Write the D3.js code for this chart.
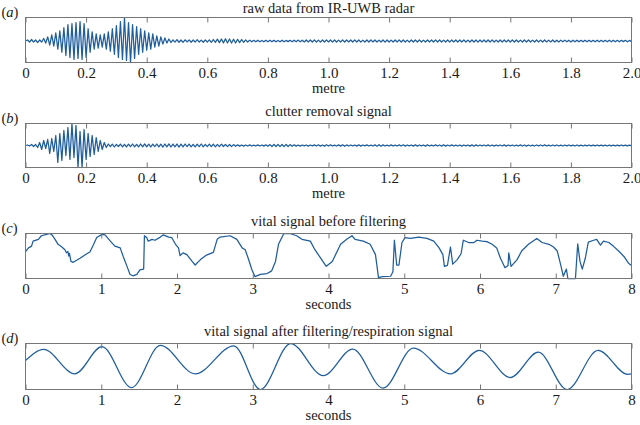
<!DOCTYPE html>
<html><head><meta charset="utf-8">
<script src="https://cdn.jsdelivr.net/npm/d3@7"></script>
<style>body{margin:0;background:#fff}svg{display:block}</style>
</head><body><svg id="chart" width="640" height="425"></svg>
<script>
// ---------- data ----------
const rangeTicks = [0,0.2,0.4,0.6,0.8,1.0,1.2,1.4,1.6,1.8,2.0];
const rangeTickLabels = ["0","0.2","0.4","0.6","0.8","1.0","1.2","1.4","1.6","1.8","2.0"];
const timeTicks = [0,1,2,3,4,5,6,7,8];
const timeTickLabels = ["0","1","2","3","4","5","6","7","8"];

const sampleStep = 2/300; // metre between radar samples

const rawData = [
0,1,-1,1.5,-1,1,-1.5,1,-1,
2.5,-2,4,-4,6,-5,8,
-8,10,-11,13,-14,16,-16,17,-18,18,-17,19,-18,17,-16,
12,-11,9,-8,7,-7,6,-6,7,-8,9,-10,
12,-13,15,-16,19,-18,23,-19,18,-21,16,-17,14,-13,
12,-11,10,-9,8,-8,7,-6,5,-5,4,-3,3,-2,2,-1.5,
1.2,-1,1.4,-1.2,1,-1.3,1.2,-0.9,1.1,-1.2,
1,-1.1,1.3,-1,0.9,-1.2,1.1,-1,1.2,-1.3,
1.5,-1.4,1.8,-1.6,2,-1.8,2.2,-1.9,2,-2,
1.8,-2,1.7,-1.6,1.5,-1.3,1.2,-1,0.9,-0.8,
0.7,-0.8,0.8,-0.7,0.6,-0.8,0.7,-0.7,0.8,-0.6,
0.7,-0.8,0.6,-0.7,0.8,-0.7,0.6,-0.6,0.7,-0.8,
0.8,-0.7,0.9,-0.8,0.8,-0.9,1,-0.9,1,-1,
1.1,-1,0.9,-1.1,1,-1,1.1,-0.9,1,-1.1,
1,-1,0.9,-1,1.1,-1,1,-0.9,1,-1,
1.1,-1,1,-1.1,0.9,-1,1,-1,1.1,-0.9,
1,-1,0.9,-1,1,-1.1,1,-1,0.9,-1,
1,-0.9,1.1,-1,1,-1,0.9,-1.1,1,-1,
1,-1,1.1,-1,0.9,-1,1,-0.9,1,-1,
1.1,-1,1,-1,0.9,-1,1,-1.1,1,-0.9,
1,-1,1,-1,1.1,-1,0.9,-1,1,-1,
1,-1.1,1,-0.9,1,-1,1,-1,1.1,-1,
0.9,-1,1,-1,1,-0.9,1,-1,1,-1,
1,-1,0.9,-1,1,-1,1,-1,0.9,-1,
1,-0.9,0.9,-1,1,-0.9,0.9,-0.9,1,-0.9,
0.8,-0.9,0.9,-0.8,0.9,-0.8,0.8,-0.9,0.8,-0.8,
0.8,-0.8,0.7,-0.8,0.8,-0.7,0.8,-0.8,0.7,-0.8,
0.8,-0.7,0.7,-0.8,0.7,-0.7,0.8,-0.7,0.7,-0.7,
0.7,-0.7,0.7,-0.6,0.7,-0.7,0.6,-0.6
];

const clutterRemoved = [
0,0.5,-0.5,1,-1,1,
-2,3,-4,5,-3,6,-8,7,-6,
10,-17,12,-15,15,-10,18,-14,22,-12,20,-22,14,-22,16,
-14,12,-11,10,-9,8,-6,5,-4,3,-2,
1.5,-1.2,1.3,-1.5,1.2,-1,1.4,-1.3,1.2,-1.4,
1.3,-1.2,1.5,-1.3,1.2,-1.4,1.5,-1.3,1.6,-1.4,
1.3,-1.5,1.4,-1.2,1.5,-1.4,1.3,-1.6,1.5,-1.3,
1.6,-1.5,1.4,-1.3,1.5,-1.6,1.3,-1.4,1.5,-1.2,
1.4,-1.3,1.2,-1.4,1.3,-1.2,1.5,-1.3,1.2,-1.1,
1.3,-1.2,1.4,-1.3,1.1,-1.2,1.3,-1,1.1,-1.2,
1,-1.1,0.9,-0.8,0.7,-0.6,0.5,-0.6,0.5,-0.5,
0.6,-0.5,0.4,-0.5,0.6,-0.5,0.5,-0.6,0.7,-0.8,
0.9,-1,1.1,-1,1.2,-1.1,1,-1.2,1.1,-1,
0.9,-0.8,0.7,-0.6,0.5,-0.6,0.5,-0.4,0.5,-0.6,
0.5,-0.4,0.6,-0.5,0.7,-0.6,0.5,-0.6,0.7,-0.5,
0.6,-0.5,0.4,-0.5,0.6,-0.6,0.7,-0.8,0.6,-0.5,
0.5,-0.4,0.5,-0.6,0.7,-0.6,0.5,-0.4,0.6,-0.5,
0.4,-0.5,0.6,-0.7,0.8,-0.7,0.6,-0.5,0.4,-0.5,
0.6,-0.5,0.4,-0.5,0.6,-0.5,0.7,-0.6,0.5,-0.4,
0.5,-0.6,0.7,-0.6,0.5,-0.4,0.5,-0.6,0.6,-0.5,
0.4,-0.5,0.6,-0.5,0.5,-0.6,0.7,-0.6,0.5,-0.5,
0.6,-0.5,0.4,-0.5,0.5,-0.6,0.5,-0.4,0.5,-0.6,
0.6,-0.7,0.6,-0.5,0.5,-0.4,0.5,-0.5,0.6,-0.5,
0.5,-0.6,0.5,-0.4,0.5,-0.5,0.6,-0.6,0.5,-0.4,
0.5,-0.5,0.4,-0.5,0.6,-0.5,0.5,-0.6,0.5,-0.5,
0.4,-0.5,0.5,-0.4,0.5,-0.5,0.6,-0.5,0.4,-0.5,
0.5,-0.4,0.5,-0.5,0.4,-0.5,0.5,-0.4,0.5,-0.4,
0.4,-0.5,0.5,-0.4,0.4,-0.5,0.4,-0.4,0.5,-0.4,
0.4,-0.4,0.5,-0.4,0.4,-0.4,0.4,-0.5,0.4,-0.4,
0.4,-0.4,0.4,-0.4,0.5,-0.4,0.4,-0.4,0.4,-0.3
];

const vitalBeforeTime = [
0,0.04,0.08,0.10,0.17,0.21,0.28,0.32,0.35,0.39,0.43,0.48,0.52,0.54,0.56,0.57,0.58,0.60,0.63,0.72,0.81,0.85,0.90,0.94,1.01,1.05,1.12,1.18,1.25,1.29,1.34,1.38,1.42,1.47,1.51,1.56,1.57,1.60,1.62,1.67,1.71,1.78,1.82,1.89,1.93,1.98,2.02,2.04,2.08,2.13,2.20,2.24,2.31,2.39,2.48,
2.53,2.57,2.70,2.79,2.86,2.90,2.94,2.99,3.03,3.10,3.19,3.25,3.30,3.34,3.41,3.49,3.58,3.65,3.76,3.82,3.91,3.97,4.05,4.16,4.24,4.31,4.35,4.46,4.55,4.62,4.66,4.71,4.82,4.85,4.87,4.90,4.93,4.97,5.01,5.08,5.19,
5.30,5.39,5.46,5.51,5.53,5.57,5.61,5.64,5.70,5.75,5.78,5.85,5.92,5.96,6.03,6.09,6.16,6.22,6.27,6.33,6.37,6.38,6.41,6.49,6.55,6.64,6.75,6.82,6.91,6.97,7.02,7.07,7.10,7.14,7.16,7.26,7.29,7.32,7.35,7.39,7.43,7.50,7.54,7.59,7.63,7.70,7.76,7.83,7.90,7.96,8.0
];
const vitalBeforeValue = [
0.60,0.68,0.72,0.83,0.87,0.95,0.98,1.0,0.97,0.87,0.76,0.70,0.64,0.57,0.60,0.50,0.56,0.38,0.36,0.45,0.55,0.59,0.76,0.91,0.98,0.97,0.83,0.72,0.68,0.49,0.27,0.09,0.06,0.09,0.19,0.21,0.95,0.91,0.83,0.87,0.85,0.92,0.97,0.92,0.91,0.76,0.68,0.51,0.57,0.53,0.38,0.30,0.42,0.52,0.58,
0.87,0.92,0.95,0.87,0.68,0.64,0.45,0.19,0.04,0.09,0.11,0.17,0.38,0.76,1.0,1.0,0.95,0.87,0.83,0.64,0.42,0.27,0.38,0.76,0.87,0.95,0.87,0.83,0.76,0.53,0.02,0.04,0.05,0.15,0.85,0.30,0.30,0.80,0.91,0.89,0.92,
0.89,0.83,0.68,0.53,0.27,0.29,0.70,0.32,0.42,0.55,0.85,0.80,0.80,0.85,0.83,0.82,0.76,0.68,0.45,0.24,0.29,0.57,0.27,0.42,0.61,0.76,0.89,0.80,0.76,0.70,0.61,0.27,0.05,0.21,0,0,0.77,0.38,0.21,0.45,0.81,0.85,0.87,0.74,0.83,0.80,0.72,0.61,0.49,0.34,0.29
];

const respirationTime  = [0,0.24,0.65,1.01,1.40,1.78,2.24,2.75,3.10,3.50,3.93,4.32,4.72,5.12,5.61,5.99,6.40,6.77,7.15,7.56,7.95,8.0];
const respirationValue = [0.63,0.87,0.34,0.93,0.04,0.96,0.34,0.95,0.0,1.0,0.30,0.88,0.03,0.90,0.34,0.85,0.26,0.81,0.0,0.85,0.33,0.34];

const panelLetters = ["a","b","c","d"];
const panelTitles = ["raw data from IR-UWB radar","clutter removal signal","vital signal before filtering","vital signal after filtering/respiration signal"];
const axisTitles = ["metre","metre","seconds","seconds"];

// ---------- drawing ----------
const svg = d3.select("#chart");
const left = 25.5, right = 631.5;
const lineColor = "#1f5d9c", frameColor = "#767676", textColor = "#1a1a1a";
const serif = "'Liberation Serif','Times New Roman',serif";

const panels = [
  {top:17.5, bottom:62.5, xd:[0,2], yd:[-21,23], ticks:rangeTicks, labels:rangeTickLabels,
   pts: rawData.map((v,i)=>[i*sampleStep, v]), curve:d3.curveLinear},
  {top:123.5, bottom:167.5, xd:[0,2], yd:[-22,22], ticks:rangeTicks, labels:rangeTickLabels,
   pts: clutterRemoved.map((v,i)=>[i*sampleStep, v]), curve:d3.curveLinear},
  {top:233.5, bottom:278.5, xd:[0,8], yd:[0,1], ticks:timeTicks, labels:timeTickLabels,
   pts: vitalBeforeTime.map((t,i)=>[t, vitalBeforeValue[i]]), curve:d3.curveLinear},
  {top:343.5, bottom:389.5, xd:[0,8], yd:[0,1], ticks:timeTicks, labels:timeTickLabels,
   pts: respirationTime.map((t,i)=>[t, respirationValue[i]]), curve:d3.curveMonotoneX}
];

panels.forEach((p, k) => {
  const x = d3.scaleLinear().domain(p.xd).range([left, right]);
  const y = d3.scaleLinear().domain(p.yd).range([p.bottom, p.top]);
  const g = svg.append("g");

  g.append("path")
    .datum(p.pts)
    .attr("fill","none")
    .attr("stroke",lineColor)
    .attr("stroke-width",1.25)
    .attr("stroke-linejoin","round")
    .attr("d", d3.line().x(d=>x(d[0])).y(d=>y(d[1])).curve(p.curve));

  const ab = g.append("g").attr("transform",`translate(0,${p.bottom})`)
    .call(d3.axisBottom(x).tickValues(p.ticks).tickFormat((d,i)=>p.labels[i])
      .tickSizeInner(-5).tickSizeOuter(0).tickPadding(5));
  const at = g.append("g").attr("transform",`translate(0,${p.top})`)
    .call(d3.axisTop(x).tickValues(p.ticks).tickFormat("")
      .tickSizeInner(-5).tickSizeOuter(0));
  [ab, at].forEach(a => {
    a.attr("font-family", serif);
    a.select(".domain").remove();
    a.selectAll(".tick line").attr("stroke",frameColor);
  });
  ab.selectAll(".tick text")
    .attr("font-family",serif).attr("font-size",15).attr("fill",textColor);

  g.append("rect")
    .attr("x",left).attr("y",p.top)
    .attr("width",right-left).attr("height",p.bottom-p.top)
    .attr("fill","none").attr("stroke",frameColor).attr("stroke-width",1);

  g.append("text")
    .attr("x",(left+right)/2).attr("y",Math.max(p.top-8, 13))
    .attr("text-anchor","middle")
    .attr("font-family",serif).attr("font-size",14.5).attr("fill",textColor)
    .text(panelTitles[k]);

  g.append("text")
    .attr("x",(left+right)/2).attr("y",p.bottom+30.5)
    .attr("text-anchor","middle")
    .attr("font-family",serif).attr("font-size",14.5).attr("fill",textColor)
    .text(axisTitles[k]);

  const lt = g.append("text")
    .attr("x",1.5).attr("y",p.top-0.5)
    .attr("font-family",serif).attr("font-size",14.5).attr("fill",textColor);
  lt.append("tspan").text("(");
  lt.append("tspan").attr("font-style","italic").text(panelLetters[k]);
  lt.append("tspan").text(")");
});
</script>
</body></html>
